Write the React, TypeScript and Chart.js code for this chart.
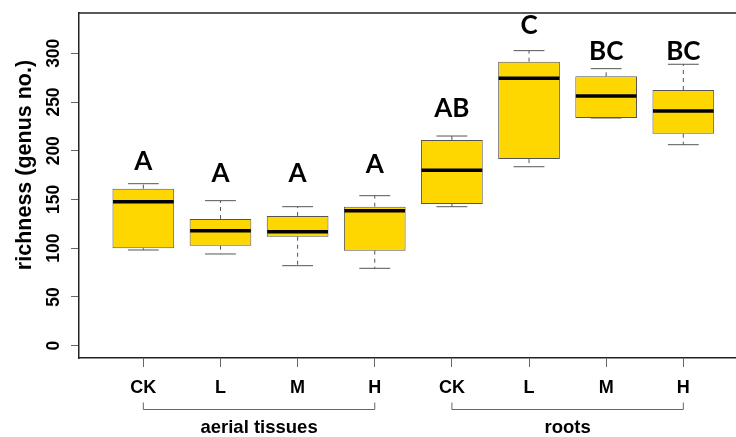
import React, { useEffect, useRef } from 'react';
import { Chart, registerables } from 'chart.js';

Chart.register(...registerables);

// ---- data ----
const categories = ['CK', 'L', 'M', 'H', 'CK', 'L', 'M', 'H'];
const groupNames = ['aerial tissues', 'roots'];
const groupStart = [1, 5];
const groupEnd = [4, 8];
const lowerWhisker = [98.2, 94.1, 82.1, 79.4, 142.6, 183.6, 233.6, 206.2];
const q1 = [100.0, 102.6, 111.8, 97.5, 145.4, 191.5, 233.6, 217.5];
const medians = [147.7, 118.0, 117.0, 138.5, 179.9, 274.3, 256.2, 240.8];
const q3 = [161.1, 130.0, 133.1, 142.6, 211.0, 291.4, 276.4, 262.3];
const upperWhisker = [166.2, 148.8, 142.6, 153.9, 215.1, 302.7, 284.2, 288.7];
const letters = ['A', 'A', 'A', 'A', 'AB', 'C', 'BC', 'BC'];
const letterBaseline = [180.3, 168.3, 168.3, 177.5, 234.3, 319.5, 293.1, 293.1];
const yTicks = [0, 50, 100, 150, 200, 250, 300];
const yTitle = 'richness (genus no.)';

const boxPlugin = {
  id: 'boxExtras',
  afterDatasetsDraw(chart: any) {
    const ctx = chart.ctx;
    const xs = chart.scales.x;
    const ys = chart.scales.y;
    const meta = chart.getDatasetMeta(0);
    ctx.save();
    categories.forEach((_, i) => {
      const bar = meta.data[i];
      const cx = xs.getPixelForValue(i + 1);
      const half = bar.width / 2;
      const capHalf = half / 2;
      const yq1 = ys.getPixelForValue(q1[i]);
      const yq3 = ys.getPixelForValue(q3[i]);
      const ylo = ys.getPixelForValue(lowerWhisker[i]);
      const yhi = ys.getPixelForValue(upperWhisker[i]);
      const ym = ys.getPixelForValue(medians[i]);
      // whiskers (dashed)
      ctx.strokeStyle = '#555';
      ctx.lineWidth = 1;
      ctx.setLineDash([4, 4]);
      ctx.beginPath();
      ctx.moveTo(cx, yq3);
      ctx.lineTo(cx, yhi);
      ctx.moveTo(cx, yq1);
      ctx.lineTo(cx, ylo);
      ctx.stroke();
      ctx.setLineDash([]);
      // caps
      ctx.beginPath();
      ctx.moveTo(cx - capHalf, yhi);
      ctx.lineTo(cx + capHalf, yhi);
      ctx.moveTo(cx - capHalf, ylo);
      ctx.lineTo(cx + capHalf, ylo);
      ctx.stroke();
      // median
      ctx.strokeStyle = '#000';
      ctx.lineWidth = 3.5;
      ctx.beginPath();
      ctx.moveTo(cx - half + 0.5, ym);
      ctx.lineTo(cx + half - 0.5, ym);
      ctx.stroke();
      // letters
      ctx.fillStyle = '#000';
      ctx.font = 'bold 26px Lato, "Open Sans", sans-serif';
      ctx.textAlign = 'center';
      ctx.textBaseline = 'alphabetic';
      ctx.fillText(letters[i], cx, ys.getPixelForValue(letterBaseline[i]));
    });
    ctx.restore();
  },
  afterDraw(chart: any) {
    const ctx = chart.ctx;
    const xs = chart.scales.x;
    const area = chart.chartArea;
    ctx.save();
    // top frame line
    ctx.strokeStyle = '#222';
    ctx.lineWidth = 1.5;
    ctx.beginPath();
    ctx.moveTo(area.left, area.top);
    ctx.lineTo(area.right, area.top);
    ctx.stroke();
    // y title
    ctx.fillStyle = '#000';
    ctx.font = 'bold 21.5px "Liberation Sans", Arial, sans-serif';
    ctx.textAlign = 'center';
    ctx.textBaseline = 'middle';
    ctx.translate(25, 165);
    ctx.rotate(-Math.PI / 2);
    ctx.fillText(yTitle, 0, 0);
    ctx.restore();
    // group brackets
    ctx.save();
    ctx.strokeStyle = '#666';
    ctx.lineWidth = 1;
    ctx.fillStyle = '#000';
    ctx.font = 'bold 18.5px "Liberation Sans", Arial, sans-serif';
    ctx.textAlign = 'center';
    ctx.textBaseline = 'alphabetic';
    groupNames.forEach((g, k) => {
      const x0 = xs.getPixelForValue(groupStart[k]);
      const x1 = xs.getPixelForValue(groupEnd[k]);
      ctx.beginPath();
      ctx.moveTo(x0, 402.5);
      ctx.lineTo(x0, 409.5);
      ctx.lineTo(x1, 409.5);
      ctx.lineTo(x1, 402.5);
      ctx.stroke();
      ctx.fillText(g, (x0 + x1) / 2, 433);
    });
    ctx.restore();
  },
};

export default function App() {
  const ref = useRef<HTMLCanvasElement | null>(null);
  useEffect(() => {
    if (!ref.current) return;
    const chart = new Chart(ref.current, {
      type: 'bar',
      data: {
        datasets: [
          {
            data: categories.map((_, i) => ({ x: i + 1, y: [q1[i], q3[i]] })) as any,
            backgroundColor: '#FFD700',
            borderColor: '#555',
            borderWidth: 1,
            borderSkipped: false,
            categoryPercentage: 1,
            barPercentage: 0.8,
          },
        ],
      },
      options: {
        animation: false,
        responsive: false,
        layout: { padding: { top: 13, left: 0, right: 0, bottom: 0 } },
        plugins: { legend: { display: false }, tooltip: { enabled: false } },
        scales: {
          x: {
            type: 'linear',
            offset: false,
            min: 0.166,
            max: 8.683,
            afterBuildTicks: (s: any) => {
              s.ticks = categories.map((_, i) => ({ value: i + 1 }));
            },
            afterFit: (s: any) => {
              s.height = 79;
            },
            grid: { offset: false, drawOnChartArea: false, drawTicks: true, tickLength: 9, color: '#666' },
            border: { display: true, color: '#222', width: 1.5 },
            ticks: {
              autoSkip: false,
              maxRotation: 0,
              padding: 10.5,
              color: '#000',
              font: { family: '"Liberation Sans", Arial, sans-serif', size: 18, weight: 'bold' },
              callback: (v: any) => categories[Math.round(v) - 1] ?? '',
            },
          },
          y: {
            type: 'linear',
            min: -12.6,
            max: 341.3,
            afterBuildTicks: (s: any) => {
              s.ticks = yTicks.map((v) => ({ value: v }));
            },
            afterFit: (s: any) => {
              s.width = 79;
            },
            grid: { drawOnChartArea: false, drawTicks: true, tickLength: 8, color: '#666' },
            border: { display: true, color: '#222', width: 1.5 },
            ticks: {
              autoSkip: false,
              minRotation: 90,
              maxRotation: 90,
              crossAlign: 'center',
              padding: 2,
              color: '#000',
              font: { family: '"Liberation Sans Narrow", "Liberation Sans", Arial, sans-serif', size: 17.5, weight: 'bold' },
            },
          },
        },
      },
      plugins: [boxPlugin],
    } as any);
    return () => chart.destroy();
  }, []);
  return (
    <div style={{ position: 'fixed', left: 0, top: 0, width: 736, height: 437, background: '#fff' }}>
      <canvas ref={ref} width={736} height={437} />
    </div>
  );
}
